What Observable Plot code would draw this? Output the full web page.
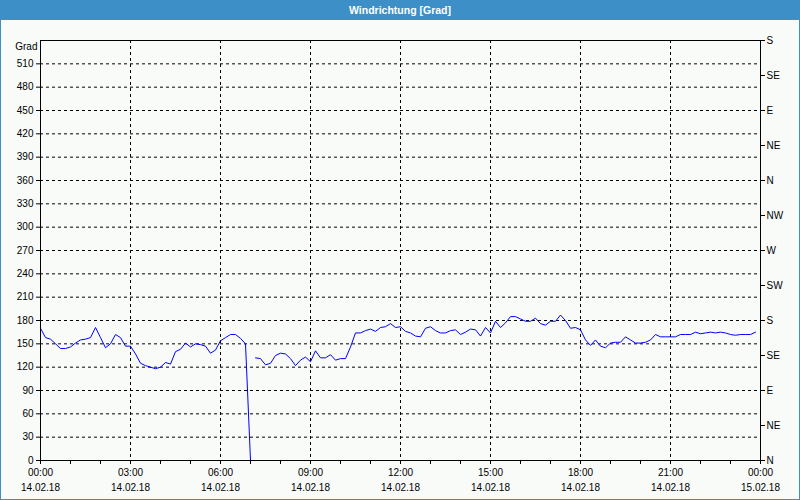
<!DOCTYPE html>
<html>
<head>
<meta charset="utf-8">
<script src="https://cdn.jsdelivr.net/npm/d3@7"></script>
<script src="https://cdn.jsdelivr.net/npm/@observablehq/plot@0.6"></script>
<style>
  html, body { margin: 0; padding: 0; background: #f9fbf9; }
  #page { position: relative; width: 800px; height: 500px; overflow: hidden; background: #f9fbf9; font-family: "Liberation Sans", Arial, sans-serif; }
  #title { position: absolute; left: 0; top: 0; width: 800px; height: 20px; background: #3c8fc7; color: #ffffff; font-weight: bold; font-size: 10.5px; text-align: center; line-height: 20px; }
  #chart { position: absolute; left: 0; top: 20px; }
  #border { position: absolute; left: 0; top: 0; width: 800px; height: 500px; box-sizing: border-box; border: 1px solid #3c8fc7; border-top: none; pointer-events: none; }
</style>
</head>
<body>
<div id="page">
  <div id="title">Windrichtung [Grad]</div>
  <div id="chart"></div>
  <div id="border"></div>
</div>
<script>
// Wind direction [degrees], 10-minute samples starting 14.02.18 00:00
const startTime = "2018-02-14T00:00:00Z";
const endTime = "2018-02-15T00:00:00Z";
const stepMinutes = 10;
const gapAfterIndex = 42; // no data between 07:00 and 07:10
const direction = [
  170, 158, 156, 150, 144, 144, 146, 151, 155, 156, 158, 171,
  158, 145, 150, 162, 158, 147, 147, 137, 125, 122, 120, 118,
  120, 126, 124, 140, 143, 151, 146, 150, 149, 147, 138, 142,
  154, 158, 162, 162, 157, 150, 0, 132, 131, 123, 125, 135,
  138, 137, 131, 122, 129, 133, 127, 141, 132, 132, 136, 129,
  131, 131, 146, 164, 164, 167, 169, 166, 171, 172, 176, 171,
  172, 166, 164, 160, 159, 170, 172, 167, 164, 164, 167, 168,
  162, 165, 169, 168, 160, 171, 164, 179, 171, 177, 185, 185,
  182, 179, 179, 183, 176, 174, 179, 179, 187, 180, 170, 171,
  168, 155, 148, 155, 147, 145, 151, 152, 152, 159, 155, 151,
  151, 152, 155, 162, 159, 159, 159, 159, 162, 162, 162, 165,
  163, 164, 165, 164, 165, 164, 162, 161, 162, 162, 162, 165
];
const leftTicks = [0, 30, 60, 90, 120, 150, 180, 210, 240, 270, 300, 330, 360, 390, 420, 450, 480, 510];
const gridTicks = [30, 60, 90, 120, 150, 180, 210, 240, 270, 300, 330, 360, 390, 420, 450, 480, 510];
const compassTicks = [0, 45, 90, 135, 180, 225, 270, 315, 360, 405, 450, 495, 540];
const compassLabels = ["N", "NE", "E", "SE", "S", "SW", "W", "NW", "N", "NE", "E", "SE", "S"];
const yMax = 540;
const yUnit = "Grad";

const t0 = new Date(startTime);
const t1 = new Date(endTime);
const rows = [];
direction.forEach((v, i) => {
  rows.push({time: new Date(+t0 + i * stepMinutes * 60000), value: v});
  if (i === gapAfterIndex) rows.push({time: new Date(+t0 + (i + 0.5) * stepMinutes * 60000), value: NaN});
});

const majorTicks = d3.utcHour.every(3).range(t0, new Date(+t1 + 1));
const minorTicks = d3.utcHour.every(1).range(t0, new Date(+t1 + 1));
const innerMajor = majorTicks.filter(d => +d !== +t0 && +d !== +t1);
const fmtTime = d3.utcFormat("%H:%M");
const fmtDate = d3.utcFormat("%d.%m.%y");

const chart = Plot.plot({
  width: 800,
  height: 480,
  marginLeft: 40,
  marginRight: 40,
  marginTop: 20,
  marginBottom: 40,
  style: {fontFamily: "'Liberation Sans', Arial, sans-serif", fontSize: "10px", color: "black", background: "transparent", overflow: "visible"},
  x: {type: "utc", domain: [t0, t1]},
  y: {domain: [0, yMax]},
  marks: [
    Plot.gridY(gridTicks, {stroke: "black", strokeOpacity: 1, strokeDasharray: "3,3"}),
    Plot.gridX(innerMajor, {stroke: "black", strokeOpacity: 1, strokeDasharray: "3,3"}),
    Plot.axisY({ticks: leftTicks, anchor: "left", tickSize: 4, tickPadding: 3, label: null, tickFormat: d => String(d), stroke: "black"}),
    Plot.axisY({ticks: compassTicks, anchor: "right", tickSize: 4, tickPadding: 2, label: null, tickFormat: d => compassLabels[compassTicks.indexOf(d)], stroke: "black"}),
    Plot.axisX({ticks: minorTicks, anchor: "bottom", tickSize: 4, tickFormat: () => "", label: null, stroke: "black"}),
    Plot.axisX({ticks: majorTicks, anchor: "bottom", tickSize: 0, tickPadding: 8, tickFormat: fmtTime, label: null}),
    Plot.axisX({ticks: majorTicks, anchor: "bottom", tickSize: 0, tickPadding: 23, tickFormat: fmtDate, label: null}),
    Plot.text([yUnit], {frameAnchor: "top-left", text: d => d, dx: -3, dy: 6, textAnchor: "end", lineAnchor: "middle", fill: "black"}),
    Plot.line(rows, {x: "time", y: "value", stroke: "#0000ff", strokeWidth: 1}),
    Plot.frame({stroke: "black"})
  ]
});
document.getElementById("chart").appendChild(chart);
</script>
</body>
</html>
